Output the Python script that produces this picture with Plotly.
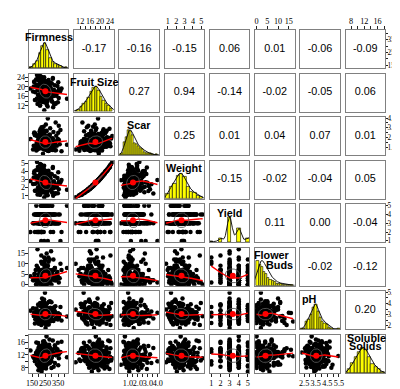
import numpy as np
import plotly.graph_objects as go

var_names = ["Firmness", "Fruit Size", "Scar", "Weight", "Yield", "Flower Buds", "pH", "Soluble Solids"]

firmness = [236, 262, 274, 251, 228, 219, 283, 245, 230, 257, 266, 209,
            241, 253, 299, 224, 270, 247, 212, 233, 259, 196, 278, 238,
            255, 217, 243, 288, 226, 261, 249, 204, 310, 239, 232, 252,
            268, 263, 246, 281, 237, 254, 223, 242, 138, 248, 229, 215,
            227, 258, 276, 240, 234, 192, 250, 218, 244, 287, 231, 265,
            249, 221, 273, 260, 235, 242, 213, 293, 256, 237, 203, 271,
            244, 188, 257, 264, 286, 225, 239, 252, 230, 267, 214, 333,
            235, 260, 246, 418, 220, 251, 272, 207, 262, 243, 279, 356,
            302, 188, 265, 231, 340, 210, 277, 249, 172, 318, 226, 290,
            205, 264, 351, 238, 183, 297, 256, 221, 329, 199, 272, 244,
            287, 163, 246, 309, 215, 368, 234, 192, 279, 253, 325, 207,
            229, 314, 197, 270, 345, 242, 181, 301, 223, 262, 158, 284,
            261, 217, 336, 201, 289, 248, 376, 212, 296, 175, 257, 320,
            193, 281, 239, 355, 227, 305, 168, 268, 233, 312, 202, 275,
            316, 236, 178, 293, 254, 214, 331, 186, 269, 243, 362, 220,
            247, 299, 208, 325, 195, 271, 230, 348, 166, 285, 259, 211]

fruit_size = [18.4, 17.1, 19.6, 16.3, 18.9, 20.8, 17.7, 15.2, 19.1, 18.0, 21.5, 16.8,
              18.6, 14.6, 17.4, 20.2, 19.3, 17.9, 12.1, 18.8, 22.3, 16.5, 19.8, 18.2,
              16.9, 17.5, 18.7, 15.9, 20.5, 18.3, 13.4, 19.0, 23.6, 17.2, 18.5, 16.1,
              17.8, 19.4, 15.6, 21.1, 18.1, 17.6, 16.7, 20.0, 19.2, 18.9, 17.3, 15.4,
              18.3, 16.0, 22.8, 17.0, 19.5, 18.6, 14.1, 20.6, 10.2, 17.9, 19.9, 16.6,
              18.5, 17.4, 20.3, 19.7, 15.8, 18.0, 16.4, 21.8, 17.7, 14.9, 18.8, 19.2,
              17.6, 24.9, 18.2, 16.2, 20.9, 17.3, 19.0, 15.5, 18.7, 13.8, 21.4, 17.9,
              19.4, 16.8, 18.1, 15.0, 20.1, 18.4, 17.0, 23.1, 16.4, 19.6, 17.5, 18.9,
              21.3, 15.1, 19.8, 13.6, 17.2, 22.9, 16.0, 20.4, 14.4, 18.7, 23.8, 15.7,
              19.1, 12.4, 21.9, 16.6, 20.8, 14.9, 17.9, 24.2, 13.1, 19.4, 16.3, 22.4,
              15.4, 20.1, 17.5, 23.3, 14.2, 18.3, 21.6, 12.8, 19.9, 16.8, 20.6, 13.9,
              22.1, 16.5, 18.9, 11.7, 20.3, 15.6, 23.0, 17.4, 14.7, 21.0, 18.0, 19.6,
              13.3, 20.9, 16.2, 22.6, 18.5, 14.0, 19.2, 24.5, 15.9, 17.7, 21.8, 12.6,
              20.5, 17.0, 23.6, 15.3, 19.0, 13.7, 22.2, 16.9, 20.0, 11.4, 18.6, 21.2,
              16.1, 22.7, 14.5, 19.7, 17.3, 21.5, 12.9, 20.2, 15.0, 23.9, 17.8, 19.3,
              18.8, 14.1, 21.1, 16.7, 24.0, 15.8, 20.7, 13.5, 22.0, 17.6, 19.5, 12.2]

scar = [1.05, 1.32, 1.78, 1.45, 0.92, 2.35, 1.62, 1.18, 0.85, 2.10, 1.27, 1.10,
        1.22, 0.78, 1.50, 1.15, 1.88, 1.36, 1.25, 0.98, 2.60, 1.70, 0.62, 1.40,
        1.42, 1.08, 1.30, 1.55, 1.95, 0.70, 1.02, 1.48, 1.12, 3.10, 1.38, 0.95,
        1.65, 1.20, 1.34, 2.20, 0.88, 1.58, 1.14, 1.00, 1.82, 0.90, 1.44, 1.16,
        0.96, 1.28, 2.02, 1.74, 0.30, 1.52, 1.24, 2.45, 0.75, 1.04, 1.60, 1.06,
        1.19, 1.46, 1.33, 1.92, 1.56, 0.94, 2.28, 1.26, 1.09, 1.41, 0.82, 3.96,
        1.35, 2.15, 1.17, 1.68, 1.01, 2.05, 1.29, 1.47, 0.87, 1.21, 2.85, 0.66,
        1.37, 1.63, 1.07, 1.23, 1.43, 0.80, 1.85, 1.53, 2.70, 0.97, 1.13, 1.72,
        1.85, 0.72, 1.40, 2.65, 1.12, 1.96, 0.58, 1.53, 2.22, 1.03, 2.90, 1.28,
        1.60, 0.95, 2.48, 1.20, 0.64, 1.77, 3.35, 1.09, 1.44, 2.05, 0.83, 1.68,
        2.30, 1.14, 0.77, 1.90, 1.36, 2.78, 0.99, 1.57, 0.68, 2.12, 1.25, 1.81,
        1.31, 2.55, 1.06, 0.61, 1.73, 2.36, 1.18, 0.89, 3.05, 1.49, 0.74, 1.99,
        0.86, 1.66, 2.18, 1.02, 2.95, 1.39, 0.55, 1.88, 1.23, 2.40, 1.11, 1.59,
        2.08, 0.92, 1.47, 3.22, 1.15, 0.70, 2.50, 1.34, 1.79, 0.81, 2.26, 1.07,
        1.21, 2.70, 0.88, 1.62, 2.01, 1.00, 3.55, 1.44, 0.76, 1.93, 1.29, 2.34,
        1.70, 1.10, 2.60, 0.67, 1.38, 2.15, 0.94, 1.82, 2.42, 1.16, 0.79, 1.52]

weight = [2.58, 2.30, 2.95, 2.07, 2.70, 3.50, 2.36, 1.80, 2.91, 2.44, 3.60, 2.22,
          2.75, 1.55, 2.38, 3.12, 2.97, 2.41, 1.12, 2.69, 4.05, 2.01, 3.13, 2.50,
          2.25, 2.29, 2.78, 1.86, 3.38, 2.53, 1.38, 2.74, 4.55, 2.20, 2.71, 2.03,
          2.49, 2.88, 1.79, 3.58, 2.47, 2.44, 2.08, 3.20, 2.81, 2.85, 2.24, 1.85,
          2.65, 1.90, 4.08, 2.27, 2.92, 2.62, 1.53, 3.27, 0.80, 2.53, 3.04, 2.15,
          2.59, 2.26, 3.31, 3.10, 1.94, 2.56, 1.99, 3.70, 2.47, 1.62, 2.81, 2.94,
          2.33, 5.15, 2.62, 2.04, 3.38, 2.36, 2.87, 1.76, 2.65, 1.45, 3.69, 2.42,
          3.00, 2.10, 2.59, 1.74, 3.10, 2.68, 2.15, 4.20, 2.10, 3.07, 2.41, 2.72,
          3.66, 1.65, 3.01, 1.43, 2.21, 4.28, 1.99, 3.20, 1.60, 2.78, 4.47, 1.80,
          2.90, 1.08, 3.89, 2.05, 3.47, 1.72, 2.42, 4.81, 1.31, 2.88, 2.08, 3.93,
          1.74, 3.24, 2.30, 4.42, 1.45, 2.66, 3.62, 1.16, 3.17, 2.11, 3.40, 1.49,
          3.96, 2.01, 2.84, 1.04, 3.18, 1.89, 4.15, 2.37, 1.57, 3.55, 2.45, 3.07,
          1.34, 3.38, 2.05, 4.15, 2.60, 1.41, 2.94, 4.93, 1.86, 2.47, 3.71, 1.21,
          3.25, 2.26, 4.40, 1.81, 2.75, 1.35, 4.01, 2.13, 3.21, 0.98, 2.74, 3.49,
          1.92, 4.04, 1.62, 3.10, 2.25, 3.73, 1.27, 3.15, 1.64, 4.69, 2.50, 2.85,
          2.81, 1.53, 3.45, 2.19, 4.56, 1.84, 3.44, 1.30, 3.78, 2.44, 2.92, 1.14]

yield_ = [3, 4, 3, 3, 2, 4, 3, 5, 3, 4, 3, 3,
          4, 3, 3, 4, 5, 3, 2, 3, 4, 3, 3, 4,
          3, 4, 1, 3, 3, 4, 3, 2, 3, 5, 4, 3,
          4, 3, 3, 4, 3, 3, 5, 4, 2, 3, 4, 3,
          3, 3, 4, 2, 3, 4, 5, 3, 3, 4, 3, 4,
          4, 3, 3, 5, 3, 4, 3, 2, 3, 4, 3, 1,
          3, 4, 3, 3, 4, 2, 3, 5, 4, 3, 3, 4,
          3, 4, 3, 5, 2, 3, 4, 3, 3, 4, 5, 3,
          4, 3, 3, 5, 3, 4, 3, 3, 2, 4, 3, 4,
          3, 3, 4, 3, 5, 3, 4, 2, 3, 3, 4, 3,
          4, 3, 3, 4, 3, 1, 3, 4, 5, 3, 3, 4,
          3, 4, 2, 3, 3, 4, 3, 5, 3, 4, 3, 3,
          3, 5, 3, 4, 3, 3, 2, 4, 3, 4, 3, 3,
          4, 3, 4, 3, 3, 5, 3, 3, 4, 2, 3, 4,
          3, 3, 4, 3, 5, 4, 3, 2, 3, 3, 4, 1,
          4, 3, 3, 4, 2, 3, 5, 3, 4, 3, 3, 4]

flower_buds = [2, 5, 1, 3, 7, 0, 4, 9, 2, 3, 1, 6,
               3, 6, 0, 2, 4, 11, 5, 1, 2, 8, 3, 4,
               4, 2, 13, 1, 3, 0, 2, 5, 3, 7, 1, 3,
               1, 4, 8, 3, 0, 2, 6, 1, 4, 3, 5, 2,
               3, 1, 2, 5, 0, 17, 2, 4, 10, 6, 2, 3,
               6, 3, 1, 9, 4, 0, 5, 2, 3, 4, 7, 1,
               4, 0, 5, 2, 3, 7, 1, 12, 2, 4, 3, 2,
               5, 2, 0, 8, 1, 3, 4, 2, 15, 1, 6, 3,
               6, 2, 9, 0, 4, 3, 11, 1, 5, 7, 2, 4,
               1, 8, 3, 5, 0, 6, 2, 14, 4, 3, 9, 2,
               5, 3, 0, 7, 2, 10, 4, 1, 6, 3, 8, 2,
               3, 12, 1, 4, 6, 2, 0, 5, 3, 9, 2, 7,
               8, 0, 5, 3, 2, 4, 7, 1, 16, 3, 5, 2,
               2, 6, 4, 1, 10, 3, 5, 0, 2, 7, 4, 13,
               4, 1, 7, 3, 0, 5, 2, 9, 6, 1, 3, 11,
               0, 5, 2, 8, 3, 1, 6, 4, 2, 12, 0, 5]

ph = [3.40, 3.72, 3.12, 3.52, 4.30, 3.31, 3.65, 4.05, 2.95, 3.25, 3.48, 3.80,
      3.44, 3.90, 3.62, 2.80, 3.18, 4.55, 3.50, 3.36, 3.42, 3.76, 2.62, 3.58,
      3.68, 3.29, 2.75, 3.98, 3.55, 3.15, 5.45, 3.46, 3.05, 3.54, 3.60, 3.34,
      3.22, 3.57, 4.15, 3.08, 3.70, 2.30, 3.38, 3.63, 3.85, 3.27, 3.00, 3.40,
      3.74, 3.49, 3.24, 4.40, 3.39, 2.88, 3.56, 3.20, 3.95, 3.45, 3.33, 3.82,
      3.30, 3.88, 3.47, 2.92, 4.70, 3.61, 3.10, 3.43, 4.22, 3.53, 3.02, 3.66,
      3.59, 3.35, 4.02, 3.64, 2.98, 3.41, 3.93, 3.37, 2.70, 4.10, 3.51, 3.14,
      3.28, 3.57, 3.78, 3.32, 3.19, 4.48, 3.54, 3.71, 3.67, 3.08, 3.39, 3.23,
      3.95, 3.22, 2.88, 4.35, 3.58, 3.10, 4.62, 3.46, 2.70, 3.81, 3.35, 4.12,
      3.05, 4.48, 3.62, 2.95, 4.05, 3.28, 3.77, 2.58, 4.25, 3.50, 3.15, 3.90,
      4.70, 3.38, 3.00, 3.72, 2.82, 4.18, 3.55, 3.25, 4.00, 2.65, 3.68, 3.42,
      3.30, 2.92, 4.40, 3.60, 3.12, 4.85, 3.45, 3.85, 2.78, 3.20, 4.08, 3.52,
      3.75, 4.28, 3.18, 2.68, 3.92, 3.40, 2.98, 4.55, 3.64, 3.08, 3.82, 4.15,
      2.85, 3.70, 4.20, 3.36, 4.95, 3.02, 3.57, 2.74, 3.98, 3.48, 4.32, 3.14,
      4.10, 3.26, 3.66, 2.90, 3.48, 4.42, 3.16, 3.88, 2.62, 4.02, 3.54, 3.34,
      3.44, 4.60, 2.80, 3.79, 3.24, 3.58, 4.22, 3.06, 3.71, 2.96, 3.86, 4.45]

soluble_solids = [11.1, 13.6, 9.8, 12.2, 14.0, 10.6, 12.9, 11.5, 9.2, 10.3, 12.6, 11.8,
                  13.0, 11.3, 7.9, 12.0, 11.6, 12.4, 10.1, 15.1, 11.9, 8.7, 13.2, 10.9,
                  12.1, 9.9, 13.8, 11.4, 10.4, 17.8, 11.7, 8.3, 12.7, 11.2, 9.5, 10.7,
                  10.5, 12.3, 11.0, 9.3, 14.5, 12.8, 6.8, 11.4, 13.4, 10.8, 12.5, 9.6,
                  12.9, 11.3, 10.2, 13.5, 8.9, 11.6, 14.8, 12.0, 9.7, 13.1, 10.6, 11.9,
                  11.5, 14.2, 10.9, 12.6, 16.2, 9.4, 11.8, 13.3, 8.5, 12.2, 11.1, 10.0,
                  12.4, 11.0, 13.9, 9.0, 11.4, 12.7, 15.6, 11.2, 8.1, 13.7, 10.4, 11.9,
                  10.9, 12.1, 13.0, 11.3, 10.2, 14.9, 12.5, 9.6, 11.8, 10.7, 12.3, 11.0,
                  12.8, 9.1, 14.6, 10.4, 13.3, 8.2, 11.6, 15.4, 10.0, 12.3, 7.6, 13.9,
                  10.2, 13.7, 8.8, 12.6, 15.9, 11.0, 9.5, 14.1, 12.0, 7.2, 13.0, 10.7,
                  14.3, 11.4, 9.9, 16.5, 10.9, 12.9, 8.6, 13.5, 11.8, 9.3, 15.0, 12.4,
                  9.7, 12.1, 15.7, 10.6, 13.8, 8.0, 12.7, 11.2, 14.8, 9.4, 11.5, 16.8,
                  13.1, 8.4, 11.9, 14.4, 9.6, 12.5, 16.1, 10.3, 13.6, 11.1, 7.8, 14.0,
                  11.3, 15.2, 10.1, 12.2, 8.9, 13.4, 11.7, 9.8, 14.7, 12.6, 10.5, 13.2,
                  8.3, 13.9, 12.0, 10.8, 15.5, 9.2, 14.2, 11.9, 10.4, 16.3, 12.8, 9.0,
                  12.2, 10.0, 14.9, 9.5, 11.4, 13.6, 8.7, 15.8, 11.0, 12.9, 9.9, 13.1]

# correlations printed in the upper panels (row by row)
cor_firmness = [-0.17, -0.16, -0.15, 0.06, 0.01, -0.06, -0.09]
cor_fruit_size = [0.27, 0.94, -0.14, -0.02, -0.05, 0.06]
cor_scar = [0.25, 0.01, 0.04, 0.07, 0.01]
cor_weight = [-0.15, -0.02, -0.04, 0.05]
cor_yield = [0.11, 0.00, -0.04]
cor_flower_buds = [-0.02, -0.12]
cor_ph = [0.20]
cor_rows = [cor_firmness, cor_fruit_size, cor_scar, cor_weight, cor_yield, cor_flower_buds, cor_ph]

# tick values / labels per variable
firmness_ticks = [150, 200, 250, 300, 350, 400]
firmness_labels = ["150", "", "250", "", "350", ""]
fruit_size_ticks = [12, 14, 16, 18, 20, 22, 24]
fruit_size_labels = ["12", "", "16", "", "20", "", "24"]
scar_ticks = [1.0, 1.5, 2.0, 2.5, 3.0, 3.5, 4.0]
scar_labels = ["1.0", "", "2.0", "", "3.0", "", "4.0"]
weight_ticks = [1, 2, 3, 4, 5]
weight_labels = ["1", "2", "3", "4", "5"]
yield_ticks = [1, 2, 3, 4, 5]
yield_labels = ["1", "2", "3", "4", "5"]
flower_buds_ticks = [0, 5, 10, 15]
flower_buds_labels = ["0", "5", "10", "15"]
ph_ticks = [2.5, 3.0, 3.5, 4.0, 4.5, 5.0, 5.5]
ph_labels = ["2.5", "", "3.5", "", "4.5", "", "5.5"]
soluble_solids_ticks = [8, 10, 12, 14, 16, 18]
soluble_solids_labels = ["8", "", "12", "", "16", ""]

data = [firmness, fruit_size, scar, weight, yield_, flower_buds, ph, soluble_solids]
ticks = [firmness_ticks, fruit_size_ticks, scar_ticks, weight_ticks, yield_ticks,
         flower_buds_ticks, ph_ticks, soluble_solids_ticks]
tlabels = [firmness_labels, fruit_size_labels, scar_labels, weight_labels, yield_labels,
           flower_buds_labels, ph_labels, soluble_solids_labels]

# ---- styling / geometry ----
bin_widths = [20, 1, 0.2, 0.4, None, 1, 0.2, 1]
label_specs = [
    [("Firmness", 0, 7)],
    [("Fruit Size", 1, 8)],
    [("Scar", 0, 8)],
    [("Weight", 0, 7.5)],
    [("Yield", 0, 8.5)],
    [("Flower", -3, 7), ("Buds", 5, 17)],
    [("pH", -11, 8)],
    [("Soluble", 1, 3), ("Solids", 0, 11)],
]
W, H = 400, 389
ml, mr, mt, mb = 11, 19, 9, 10
PW, PH = W - ml - mr, H - mt - mb
STEP, SIZE = 47, 41
BOX = "#808080"
TICKFONT = dict(family="Liberation Serif", size=8.2, color="black")
RTICKFONT = dict(family="Liberation Serif", size=7.2, color="black")

V = [np.array(d, dtype=float) for d in data]
nv = len(V)


def xdom(c):
    return [c * STEP / PW, (c * STEP + SIZE) / PW]


def ydom(r):
    return [1 - (r * STEP + SIZE) / PH, 1 - r * STEP / PH]


def drange(v):
    lo, hi = v.min(), v.max()
    d = (hi - lo) * 0.04
    return [lo - d, hi + d]


def lowess(x, y, f=2 / 3, iters=3):
    order = np.argsort(x, kind="mergesort")
    xs, ys = x[order], y[order]
    n = len(xs)
    r = int(np.ceil(f * n))
    dist = np.abs(xs[:, None] - xs[None, :])
    h = np.sort(dist, axis=1)[:, r - 1]
    h = np.maximum(h, 1e-12)
    w = np.clip(dist / h[:, None], 0, 1)
    w = (1 - w ** 3) ** 3
    delta = np.ones(n)
    yest = np.zeros(n)
    for _ in range(iters + 1):
        wt = w * delta[None, :]
        s0 = wt.sum(1)
        s1 = (wt * xs[None, :]).sum(1)
        s2 = (wt * (xs * xs)[None, :]).sum(1)
        t0 = (wt * ys[None, :]).sum(1)
        t1 = (wt * (xs * ys)[None, :]).sum(1)
        det = s0 * s2 - s1 * s1
        ok = np.abs(det) > 1e-10 * np.maximum(s0 * s2, 1e-12)
        b1 = np.where(ok, (s0 * t1 - s1 * t0) / np.where(ok, det, 1), 0.0)
        b0 = (t0 - b1 * s1) / s0
        yest = b0 + b1 * xs
        res = ys - yest
        s = np.median(np.abs(res))
        if s <= 0:
            break
        u = np.clip(res / (6 * s), -1, 1)
        delta = (1 - u ** 2) ** 2
    return xs, yest


def kde(v):
    n = len(v)
    sd = v.std(ddof=1)
    q75, q25 = np.percentile(v, [75, 25])
    iqr = q75 - q25
    s = min(sd, iqr / 1.34) if iqr > 0 else sd
    bw = 1.06 * s * n ** -0.2
    g = np.linspace(v.min() - 3 * bw, v.max() + 3 * bw, 300)
    d = np.exp(-0.5 * ((g[:, None] - v[None, :]) / bw) ** 2).sum(axis=1)
    return g, d / d.max()


def hist(v, bw):
    lo = np.floor(v.min() / bw + 1e-9) * bw
    hi = np.ceil(v.max() / bw - 1e-9) * bw
    edges = np.arange(lo, hi + bw * 0.5, bw)
    idx = np.searchsorted(edges, v - 1e-9, side="left") - 1
    idx = np.clip(idx, 0, len(edges) - 2)
    counts = np.bincount(idx, minlength=len(edges) - 1)
    return edges, counts


fig = go.Figure()
layout = {}
annotations = []
ranges = [drange(v) for v in V]
common = dict(showlegend=False, hoverinfo="skip")

for r in range(nv):
    for c in range(nv):
        k = r * nv + c + 1
        xn = "x" if k == 1 else f"x{k}"
        yn = "y" if k == 1 else f"y{k}"
        xa = dict(domain=xdom(c), anchor=yn, range=ranges[c], showline=True, mirror=True,
                  linecolor=BOX, linewidth=1.3, showgrid=False, zeroline=False,
                  showticklabels=False, ticks="", fixedrange=True)
        ya = dict(domain=ydom(r), anchor=xn, range=ranges[r] if r != c else [0, 1.5],
                  showline=True, mirror=True, linecolor=BOX, linewidth=1.3, showgrid=False,
                  zeroline=False, showticklabels=False, ticks="", fixedrange=True)
        tick_style = dict(showticklabels=True, ticks="outside", ticklen=3, tickwidth=1,
                          tickcolor="#222", tickfont=TICKFONT, tickmode="array", tickangle=0)
        if r == 0 and c % 2 == 1:
            xa.update(tick_style, side="top", tickvals=ticks[c], ticktext=tlabels[c],
                      ticklabelstandoff=-1)
        if r == nv - 1 and c % 2 == 0:
            xa.update(tick_style, side="bottom", tickvals=ticks[c], ticktext=tlabels[c],
                      ticklabelstandoff=-1)
        if c == nv - 1 and r % 2 == 0:
            ya.update(tick_style, side="right", tickvals=ticks[r], ticktext=tlabels[r],
                      ticklen=2, tickfont=RTICKFONT, ticklabelstandoff=-2)
        if c == 0 and r % 2 == 1:
            ya.update(tick_style, side="left", tickvals=ticks[r], ticktext=tlabels[r],
                      ticklabelstandoff=-2)
        layout["xaxis" if k == 1 else f"xaxis{k}"] = xa
        layout["yaxis" if k == 1 else f"yaxis{k}"] = ya

        cx = sum(xdom(c)) / 2
        if r == c:
            v = V[r]
            uniq, cnt = np.unique(v, return_counts=True)
            if len(uniq) < 11:
                half = np.min(np.diff(uniq)) * (len(uniq) - 1) / 21
                fig.add_trace(go.Bar(x=uniq, y=cnt / cnt.max(), width=2 * half,
                                     marker=dict(color="#FFFF00", line=dict(color="black", width=0.6)),
                                     xaxis=xn, yaxis=yn, **common))
            else:
                edges, counts = hist(v, bin_widths[r])
                fig.add_trace(go.Bar(x=(edges[:-1] + edges[1:]) / 2, y=counts / counts.max(),
                                     width=np.diff(edges),
                                     marker=dict(color="#FFFF00", line=dict(color="black", width=0.6)),
                                     xaxis=xn, yaxis=yn, **common))
            g, d = kde(v)
            fig.add_trace(go.Scatter(x=g, y=d, mode="lines", line=dict(color="black", width=0.9),
                                     xaxis=xn, yaxis=yn, **common))
            top = ydom(r)[1]
            for txt, dx, dy in label_specs[r]:
                annotations.append(dict(text=f"<b>{txt}</b>", x=cx, y=top, xref="paper", yref="paper",
                                        xanchor="center", yanchor="middle", xshift=dx, yshift=-dy,
                                        showarrow=False,
                                        font=dict(family="Liberation Sans", size=10.8, color="black")))
        elif r > c:
            x, y = V[c], V[r]
            fig.add_trace(go.Scatter(x=x, y=y, mode="markers",
                                     marker=dict(color="black", size=4.5, line=dict(width=0)),
                                     xaxis=xn, yaxis=yn, **common))
            lx, ly = lowess(x, y)
            fig.add_trace(go.Scatter(x=lx, y=ly, mode="lines", line=dict(color="red", width=1.4),
                                     xaxis=xn, yaxis=yn, **common))
            rr = np.corrcoef(x, y)[0, 1]
            th = np.sign(rr) / np.sqrt(2) if abs(rr) > 0 else 1 / np.sqrt(2)
            ang = np.linspace(0, 2 * np.pi, 52)
            cs, sn = np.cos(ang), np.sin(ang)
            a, b = np.sqrt(1 + rr), np.sqrt(1 - rr)
            ex = (cs * a * th - sn * b * th) * x.std(ddof=1) + x.mean()
            ey = (cs * a * th + sn * b * th) * y.std(ddof=1) + y.mean()
            fig.add_trace(go.Scatter(x=ex, y=ey, mode="lines", line=dict(color="#555", width=0.9),
                                     xaxis=xn, yaxis=yn, **common))
            fig.add_trace(go.Scatter(x=[x.mean()], y=[y.mean()], mode="markers",
                                     marker=dict(color="red", size=6, line=dict(width=0)),
                                     xaxis=xn, yaxis=yn, **common))
        else:
            val = cor_rows[r][c - r - 1]
            fig.add_trace(go.Scatter(x=[sum(ranges[c]) / 2], y=[sum(ranges[r]) / 2], mode="text",
                                     text=[f"{val:.2f}"], textposition="middle center",
                                     textfont=dict(family="Liberation Sans", size=10.8, color="black"),
                                     xaxis=xn, yaxis=yn, cliponaxis=False, **common))

fig.update_layout(**layout)
fig.update_layout(width=W, height=H, margin=dict(l=ml, r=mr, t=mt, b=mb, pad=0),
                  paper_bgcolor="white", plot_bgcolor="white", showlegend=False,
                  annotations=annotations, bargap=0)
fig.write_html("out.html")
